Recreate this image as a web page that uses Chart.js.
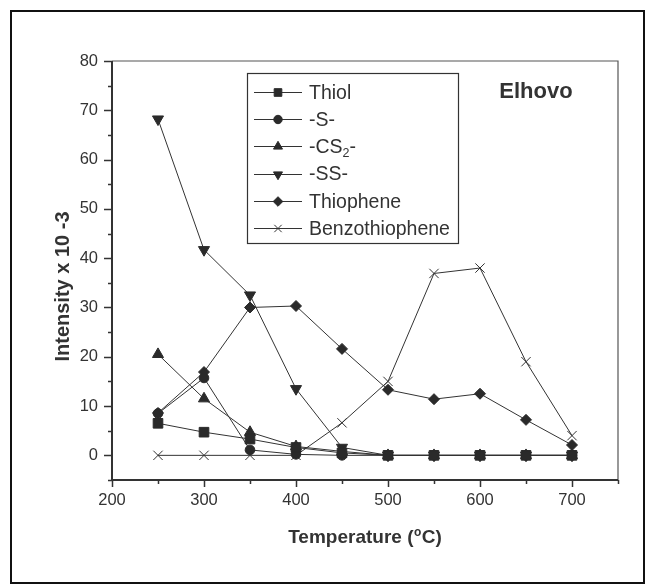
<!DOCTYPE html>
<html>
<head>
<meta charset="utf-8">
<script src="https://cdn.jsdelivr.net/npm/chart.js@4.4.0/dist/chart.umd.min.js"></script>
<style>
  html, body { margin: 0; padding: 0; background: #fff; }
  canvas { display: block; }
</style>
</head>
<body>
<canvas id="c" width="645" height="584"></canvas>
<script>
// Sulfur species intensities (x 10^-3) versus pyrolysis temperature, Elhovo sample
const temperatures   = [250, 300, 350, 400, 450, 500, 550, 600, 650, 700];
const thiol          = [6.5, 4.7, 3.3, 1.6, 0.5, 0, 0, 0, 0, 0];
const sulfide        = [8.5, 15.7, 1.1, 0.2, 0, 0, 0, 0, 0, 0];
const carbonDisulf   = [20.5, 11.5, 4.7, 1.8, 0.8, 0, 0, 0, 0, 0];
const disulfide      = [68.2, 41.7, 32.5, 13.5, 1.6, 0, 0, 0, 0, 0];
const thiophene      = [8.6, 16.9, 30.0, 30.3, 21.6, 13.3, 11.4, 12.5, 7.2, 2.1];
const benzothiophene = [0, 0, 0, 0, 6.6, 15.0, 36.9, 38.0, 19.0, 4.0];

const seriesNames = ['Thiol', '-S-', '-CS2-', '-SS-', 'Thiophene', 'Benzothiophene'];
const xTickLabels = [200, 300, 400, 500, 600, 700];
const yTickLabels = [0, 10, 20, 30, 40, 50, 60, 70, 80];

const FONT = "'Liberation Sans', Arial, Helvetica, sans-serif";
const INK = '#333333';
const MARK = '#2a2a2a';

const styles = [
  { pointStyle: 'rect',     radius: 6.8, rotation: 0,   legendRadius: 5.4 },
  { pointStyle: 'circle',   radius: 4.8, rotation: 0,   legendRadius: 4.2 },
  { pointStyle: 'triangle', radius: 6.4, rotation: 0,   legendRadius: 5.2 },
  { pointStyle: 'triangle', radius: 6.4, rotation: 180, legendRadius: 5.2 },
  { pointStyle: 'rectRot',  radius: 5.5, rotation: 0,   legendRadius: 4.8 },
  { pointStyle: 'crossRot', radius: 6.6, rotation: 0,   legendRadius: 5.2 }
];
const seriesValues = [thiol, sulfide, carbonDisulf, disulfide, thiophene, benzothiophene];

const datasets = seriesValues.map((vals, i) => ({
  label: seriesNames[i],
  data: temperatures.map((t, k) => ({ x: t, y: vals[k] })),
  borderColor: INK,
  borderWidth: 1,
  backgroundColor: MARK,
  pointStyle: styles[i].pointStyle,
  pointRadius: styles[i].radius,
  pointRotation: styles[i].rotation,
  pointBackgroundColor: MARK,
  pointBorderColor: styles[i].pointStyle === 'crossRot' ? INK : MARK,
  pointBorderWidth: 1,
  pointHoverRadius: styles[i].radius,
  tension: 0,
  fill: false,
  clip: false
}));

function drawMarker(ctx, style, radius, x, y) {
  ctx.save();
  ctx.fillStyle = MARK;
  ctx.strokeStyle = style.pointStyle === 'crossRot' ? INK : MARK;
  ctx.lineWidth = 1;
  Chart.helpers.drawPoint(ctx, {
    pointStyle: style.pointStyle,
    radius: radius,
    rotation: style.rotation,
    borderWidth: 1
  }, x, y);
  ctx.restore();
}

const decorations = {
  id: 'decorations',
  afterDraw(chart) {
    const ctx = chart.ctx;
    const area = chart.chartArea;
    const xs = chart.scales.x;
    const ys = chart.scales.y;
    ctx.save();

    // outer frame
    ctx.strokeStyle = '#111';
    ctx.lineWidth = 2;
    ctx.strokeRect(11, 11, 633, 572);

    // plot box: light top/right, heavy left/bottom axes
    ctx.strokeStyle = '#555';
    ctx.lineWidth = 1.2;
    ctx.beginPath();
    ctx.moveTo(area.left, area.top);
    ctx.lineTo(area.right, area.top);
    ctx.lineTo(area.right, area.bottom);
    ctx.stroke();

    ctx.strokeStyle = INK;
    ctx.lineWidth = 2;
    ctx.beginPath();
    ctx.moveTo(area.left, area.top);
    ctx.lineTo(area.left, area.bottom);
    ctx.lineTo(area.right, area.bottom);
    ctx.stroke();

    // tick marks, outward
    ctx.lineWidth = 1.5;
    ctx.beginPath();
    for (let v = ys.min; v <= ys.max + 1e-9; v += 5) {
      const py = Math.round(ys.getPixelForValue(v)) + 0.5;
      const len = yTickLabels.includes(v) ? 8 : 4;
      ctx.moveTo(area.left - len, py);
      ctx.lineTo(area.left, py);
    }
    for (let v = xs.min; v <= xs.max + 1e-9; v += 50) {
      const px = Math.round(xs.getPixelForValue(v)) + 0.5;
      const len = xTickLabels.includes(v) ? 7 : 4;
      ctx.moveTo(px, area.bottom);
      ctx.lineTo(px, area.bottom + len);
    }
    ctx.stroke();

    ctx.fillStyle = INK;
    ctx.textBaseline = 'alphabetic';

    // x axis title with superscript degree mark
    const cx = (area.left + area.right) / 2;
    const bigFont = 'bold 19px ' + FONT;
    const supFont = 'bold 12px ' + FONT;
    ctx.font = bigFont;
    const p1 = 'Temperature (', p3 = 'C)';
    const w1 = ctx.measureText(p1).width, w3 = ctx.measureText(p3).width;
    ctx.font = supFont;
    const w2 = ctx.measureText('o').width + 1;
    let tx = cx - (w1 + w2 + w3) / 2;
    const by = 543.3;
    ctx.textAlign = 'left';
    ctx.font = bigFont;
    ctx.fillText(p1, tx, by);
    ctx.font = supFont;
    ctx.fillText('o', tx + w1 + 0.5, by - 7);
    ctx.font = bigFont;
    ctx.fillText(p3, tx + w1 + w2, by);

    // y axis title
    ctx.save();
    ctx.translate(69.3, 286.5);
    ctx.rotate(-Math.PI / 2);
    ctx.textAlign = 'center';
    ctx.font = 'bold 20px ' + FONT;
    ctx.fillText('Intensity x 10 -3', 0, 0);
    ctx.restore();

    // sample name
    ctx.textAlign = 'center';
    ctx.font = 'bold 22px ' + FONT;
    ctx.fillText('Elhovo', 536, 98.3);

    // legend
    ctx.fillStyle = '#fff';
    ctx.fillRect(247, 73, 211, 170);
    ctx.strokeStyle = INK;
    ctx.lineWidth = 1.2;
    ctx.strokeRect(247.5, 73.5, 211, 170);
    const rowTop = 91.7, rowGap = 27.3;
    const textFont = '19.5px ' + FONT;
    seriesNames.forEach((name, i) => {
      const y = rowTop + i * rowGap;
      ctx.strokeStyle = INK;
      ctx.lineWidth = 1;
      ctx.beginPath();
      ctx.moveTo(254, Math.round(y) + 0.5);
      ctx.lineTo(302, Math.round(y) + 0.5);
      ctx.stroke();
      drawMarker(ctx, styles[i], styles[i].legendRadius, 278, Math.round(y) + 0.5);
      ctx.fillStyle = INK;
      ctx.textAlign = 'left';
      const base = y + 6.8;
      if (name === '-CS2-') {
        ctx.font = textFont;
        ctx.fillText('-CS', 309, base);
        let x = 309 + ctx.measureText('-CS').width;
        ctx.font = '12.5px ' + FONT;
        ctx.fillText('2', x, base + 4);
        x += ctx.measureText('2').width;
        ctx.font = textFont;
        ctx.fillText('-', x, base);
      } else {
        ctx.font = textFont;
        ctx.fillText(name, 309, base);
      }
    });

    ctx.restore();
  }
};

new Chart(document.getElementById('c'), {
  type: 'line',
  data: { datasets },
  options: {
    responsive: false,
    animation: false,
    events: [],
    layout: { padding: { left: 0, right: 27, top: 61, bottom: 0 } },
    plugins: { legend: { display: false }, tooltip: { enabled: false } },
    scales: {
      x: {
        type: 'linear',
        min: 200,
        max: 750,
        afterFit(s) { s.height = 104; },
        grid: { display: false, drawTicks: false },
        border: { display: false },
        ticks: {
          stepSize: 50,
          autoSkip: false,
          maxRotation: 0,
          padding: 11,
          color: INK,
          font: { family: FONT, size: 16.5 },
          callback: v => xTickLabels.includes(v) ? String(v) : ''
        }
      },
      y: {
        type: 'linear',
        min: -5,
        max: 80,
        afterFit(s) { s.width = 112; },
        grid: { display: false, drawTicks: false },
        border: { display: false },
        ticks: {
          stepSize: 5,
          autoSkip: false,
          padding: 14,
          color: INK,
          font: { family: FONT, size: 16.5 },
          callback: v => yTickLabels.includes(v) ? String(v) : ''
        }
      }
    }
  },
  plugins: [decorations]
});
</script>
</body>
</html>
